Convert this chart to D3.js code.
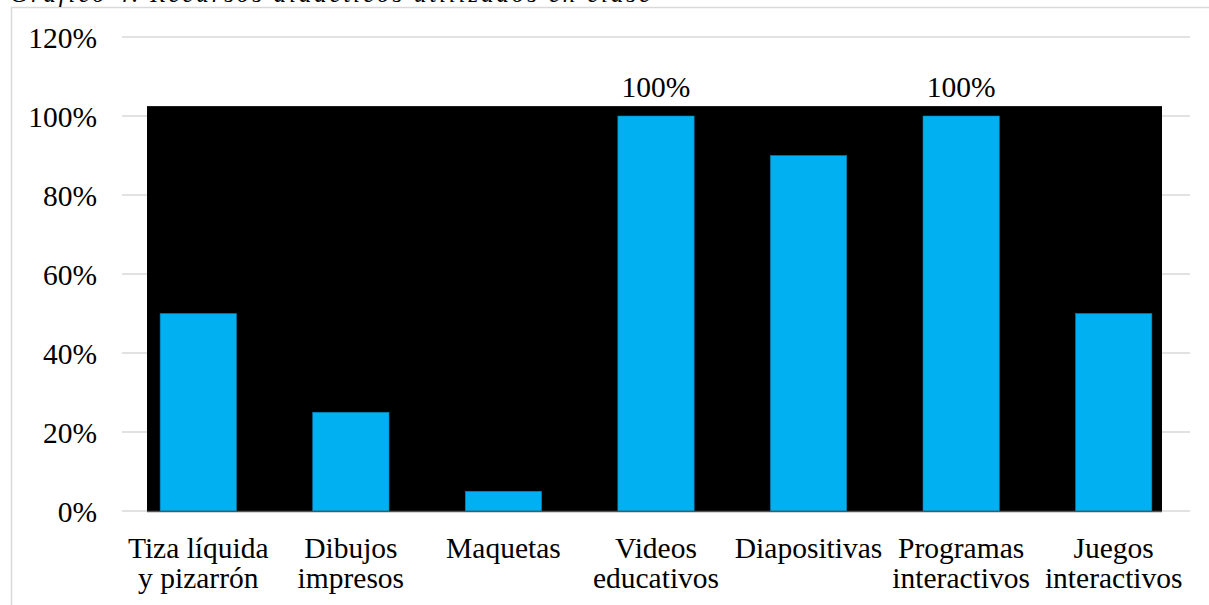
<!DOCTYPE html>
<html>
<head>
<meta charset="utf-8">
<script src="https://cdn.jsdelivr.net/npm/d3@7"></script>
<style>
  html, body { margin: 0; padding: 0; background: #fff; }
  svg { display: block; font-family: "Liberation Serif", "Times New Roman", serif; }
</style>
</head>
<body>
<svg id="chart" width="1209" height="605"></svg>
<script>
// Recursos didácticos utilizados en clase
const categories = [
  ["Tiza líquida", "y pizarrón"],
  ["Dibujos", "impresos"],
  ["Maquetas"],
  ["Videos", "educativos"],
  ["Diapositivas"],
  ["Programas", "interactivos"],
  ["Juegos", "interactivos"]
];
const values = [0.50, 0.25, 0.05, 1.00, 0.90, 1.00, 0.50];
const labeled = [false, false, false, true, false, true, false];
const yTicks = [0, 0.2, 0.4, 0.6, 0.8, 1.0, 1.2];
const titleText = "Gráfico 4. Recursos didácticos utilizados en clase";

const FONT = "'Liberation Serif', 'Times New Roman', serif";
const FS = 29.5;

const svg = d3.select("#chart");
const plot = { left: 122, right: 1190, top: 37, bottom: 511 };

// Frame of the chart area (extends past the page)
svg.append("rect")
  .attr("x", 11.5).attr("y", 7.5)
  .attr("width", 1400).attr("height", 800)
  .attr("fill", "none").attr("stroke", "#d9d9d9").attr("stroke-width", 1.5);

// Caption above the frame, clipped by the top edge
svg.append("text")
  .attr("x", 10).attr("y", 2)
  .attr("font-family", FONT)
  .attr("font-size", 25).attr("font-style", "italic")
  .attr("textLength", 640).attr("lengthAdjust", "spacing")
  .attr("fill", "#000")
  .text(titleText);

const x = d3.scaleBand()
  .domain(d3.range(categories.length))
  .range([plot.left, plot.right])
  .paddingInner(0).paddingOuter(0);

const y = d3.scaleLinear().domain([0, 1.2]).range([plot.bottom, plot.top]);

// Gridlines
svg.append("g")
  .selectAll("line")
  .data(yTicks)
  .join("line")
  .attr("x1", plot.left).attr("x2", plot.right)
  .attr("y1", d => y(d)).attr("y2", d => y(d))
  .attr("stroke", "#d9d9d9").attr("stroke-width", 1.5);

// Dark plot background
const bgLeft = plot.left + 25, bgRight = plot.right - 28;
svg.append("rect")
  .attr("x", bgLeft).attr("y", y(1.025))
  .attr("width", bgRight - bgLeft).attr("height", plot.bottom - y(1.025))
  .attr("fill", "#000");

// Bars
const barW = x.bandwidth() * 0.5;
svg.append("g")
  .selectAll("rect")
  .data(values)
  .join("rect")
  .attr("x", (d, i) => x(i) + (x.bandwidth() - barW) / 2)
  .attr("y", d => y(d))
  .attr("width", barW)
  .attr("height", d => plot.bottom - y(d))
  .attr("fill", "#00b0f0")
  .attr("stroke", "#0a7fb0").attr("stroke-width", 0.6);

// Baseline over the dark area
svg.append("line")
  .attr("x1", bgLeft).attr("x2", bgRight)
  .attr("y1", plot.bottom + 0.5).attr("y2", plot.bottom + 0.5)
  .attr("stroke", "#555").attr("stroke-width", 1.5);

// Y axis labels
const yAxis = d3.axisLeft(y).tickValues(yTicks).tickFormat(d3.format(".0%")).tickSize(0).tickPadding(0);
const yg = svg.append("g").attr("transform", "translate(97,0)").call(yAxis);
yg.select(".domain").remove();
yg.selectAll("text")
  .attr("font-family", FONT)
  .attr("font-size", FS).attr("fill", "#000").attr("dy", "0.34em");

// Category labels
const xg = svg.append("g");
categories.forEach((lines, i) => {
  const cx = x(i) + x.bandwidth() / 2;
  const t = xg.append("text")
    .attr("x", cx).attr("y", 558)
    .attr("text-anchor", "middle")
    .attr("font-family", FONT)
    .attr("font-size", FS).attr("fill", "#000");
  lines.forEach((ln, j) => {
    t.append("tspan").attr("x", cx).attr("dy", j === 0 ? 0 : 30).text(ln);
  });
});

// Value labels
svg.append("g")
  .selectAll("text")
  .data(values.map((v, i) => ({ v, i })).filter(d => labeled[d.i]))
  .join("text")
  .attr("x", d => x(d.i) + x.bandwidth() / 2)
  .attr("y", d => y(d.v) - 19)
  .attr("text-anchor", "middle")
  .attr("font-family", FONT)
  .attr("font-size", FS).attr("fill", "#000")
  .text(d => d3.format(".0%")(d.v));
</script>
</body>
</html>
